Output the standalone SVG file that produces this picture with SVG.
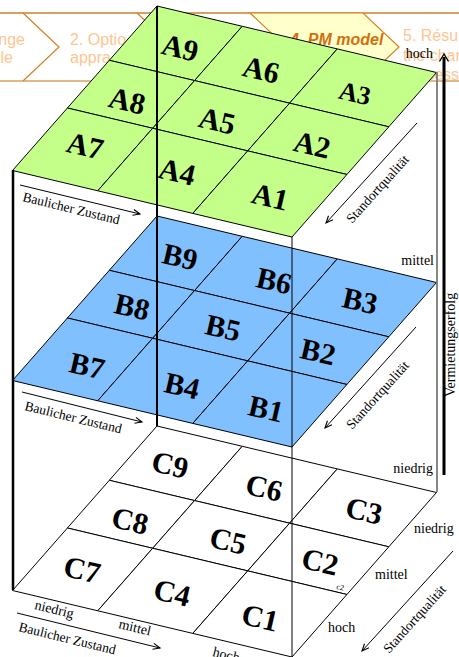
<svg xmlns="http://www.w3.org/2000/svg" width="459" height="657" viewBox="0 0 459 657">
<style>
.cell{stroke:#000;stroke-width:1;vector-effect:non-scaling-stroke}
.a{fill:#c3ff89}.b{fill:#80c0ff}.c{fill:#fff}
.cl{font-family:"Liberation Serif","DejaVu Serif",serif;font-weight:bold;font-size:30px;text-anchor:middle;fill:#000}
.sm{font-family:"Liberation Serif","DejaVu Serif",serif;font-size:13.5px;fill:#000}
.ax{font-family:"Liberation Serif","DejaVu Serif",serif;font-size:14px;fill:#000}
.bn{font-family:"Liberation Sans",Arial,sans-serif;font-size:16px;fill:#ffc590}
.chev{fill:none;stroke:#d98020;stroke-width:1.2}
.ar{fill:none;stroke:#000;stroke-width:1}
</style>
<defs>
<marker id="ah" markerWidth="10" markerHeight="8" refX="8" refY="4" orient="auto" markerUnits="userSpaceOnUse"><path d="M1,1 L8,4 L1,7" fill="none" stroke="#000" stroke-width="1.1"/></marker>
</defs>
<rect width="459" height="657" fill="#fff"/>
<g id="banner">
<line x1="0" y1="13" x2="459" y2="13" stroke="#d9a060" stroke-width="2"/>
<line x1="0" y1="81" x2="459" y2="81" stroke="#d9a060" stroke-width="1.5"/>
<polygon points="250,13 363,13 399,47 363,81 250,81 286,47" fill="#ffffcc" stroke="#d98020" stroke-width="1.2"/>
<polyline class="chev" points="23,13 59,47 23,81"/>
<polyline class="chev" points="137,13 173,47 137,81"/>
<text class="bn" x="25" y="45" text-anchor="end">nge</text>
<text class="bn" x="13" y="63" text-anchor="end">le</text>
<text class="bn" x="70" y="45">2. Optio</text>
<text class="bn" x="70" y="63">appra</text>
<text x="290" y="45" font-family="Liberation Sans, Arial, sans-serif" font-weight="bold" font-style="italic" font-size="16" fill="#d0700f">4. PM model</text>
<text class="bn" x="403" y="41">5. Résu</text>
<text class="bn" x="403" y="61">the char</text>
<text class="bn" x="403" y="80">process</text>
</g>
<g id="layerC">
<g id="C9"><rect class="cell c" x="0" y="0" width="0.305" height="0.33" transform="matrix(279.5 66.5 -144.5 164.5 157 426)"/><text class="cl" x="170" y="475" transform="rotate(13 170 465)">C9</text></g>
<g id="C8"><rect class="cell c" x="0" y="0.33" width="0.305" height="0.29" transform="matrix(279.5 66.5 -144.5 164.5 157 426)"/><text class="cl" x="130" y="531" transform="rotate(13 130 521)">C8</text></g>
<g id="C7"><rect class="cell c" x="0" y="0.62" width="0.305" height="0.38" transform="matrix(279.5 66.5 -144.5 164.5 157 426)"/><text class="cl" x="82" y="580" transform="rotate(13 82 570)">C7</text></g>
<g id="C6"><rect class="cell c" x="0.305" y="0" width="0.34" height="0.33" transform="matrix(279.5 66.5 -144.5 164.5 157 426)"/><text class="cl" x="264" y="498" transform="rotate(13 264 488)">C6</text></g>
<g id="C5"><rect class="cell c" x="0.305" y="0.33" width="0.34" height="0.29" transform="matrix(279.5 66.5 -144.5 164.5 157 426)"/><text class="cl" x="228" y="551" transform="rotate(13 228 541)">C5</text></g>
<g id="C4"><rect class="cell c" x="0.305" y="0.62" width="0.34" height="0.38" transform="matrix(279.5 66.5 -144.5 164.5 157 426)"/><text class="cl" x="172" y="603" transform="rotate(13 172 593)">C4</text></g>
<g id="C3"><rect class="cell c" x="0.645" y="0" width="0.355" height="0.33" transform="matrix(279.5 66.5 -144.5 164.5 157 426)"/><text class="cl" x="364" y="521" transform="rotate(13 364 511)">C3</text></g>
<g id="C2"><rect class="cell c" x="0.645" y="0.33" width="0.355" height="0.29" transform="matrix(279.5 66.5 -144.5 164.5 157 426)"/><text class="cl" x="320" y="572" transform="rotate(13 320 562)">C2</text><text x="336" y="589" font-family="Liberation Serif, serif" font-size="8" transform="rotate(13 336 589)">c2</text></g>
<g id="C1"><rect class="cell c" x="0.645" y="0.62" width="0.355" height="0.38" transform="matrix(279.5 66.5 -144.5 164.5 157 426)"/><text class="cl" x="260" y="628" transform="rotate(13 260 618)">C1</text></g>
</g>
<g id="layerB">
<g id="B9"><rect class="cell b" x="0" y="0" width="0.305" height="0.33" transform="matrix(279.5 66.5 -144.5 164.5 157 216)"/><text class="cl" x="180" y="267" transform="rotate(13 180 257)">B9</text></g>
<g id="B8"><rect class="cell b" x="0" y="0.33" width="0.305" height="0.29" transform="matrix(279.5 66.5 -144.5 164.5 157 216)"/><text class="cl" x="132" y="317" transform="rotate(13 132 307)">B8</text></g>
<g id="B7"><rect class="cell b" x="0" y="0.62" width="0.305" height="0.38" transform="matrix(279.5 66.5 -144.5 164.5 157 216)"/><text class="cl" x="87" y="376" transform="rotate(13 87 366)">B7</text></g>
<g id="B6"><rect class="cell b" x="0.305" y="0" width="0.34" height="0.33" transform="matrix(279.5 66.5 -144.5 164.5 157 216)"/><text class="cl" x="274" y="291" transform="rotate(13 274 281)">B6</text></g>
<g id="B5"><rect class="cell b" x="0.305" y="0.33" width="0.34" height="0.29" transform="matrix(279.5 66.5 -144.5 164.5 157 216)"/><text class="cl" x="223" y="338" transform="rotate(13 223 328)">B5</text></g>
<g id="B4"><rect class="cell b" x="0.305" y="0.62" width="0.34" height="0.38" transform="matrix(279.5 66.5 -144.5 164.5 157 216)"/><text class="cl" x="182" y="396" transform="rotate(13 182 386)">B4</text></g>
<g id="B3"><rect class="cell b" x="0.645" y="0" width="0.355" height="0.33" transform="matrix(279.5 66.5 -144.5 164.5 157 216)"/><text class="cl" x="360" y="311" transform="rotate(13 360 301)">B3</text></g>
<g id="B2"><rect class="cell b" x="0.645" y="0.33" width="0.355" height="0.29" transform="matrix(279.5 66.5 -144.5 164.5 157 216)"/><text class="cl" x="318" y="362" transform="rotate(13 318 352)">B2</text></g>
<g id="B1"><rect class="cell b" x="0.645" y="0.62" width="0.355" height="0.38" transform="matrix(279.5 66.5 -144.5 164.5 157 216)"/><text class="cl" x="266" y="419" transform="rotate(13 266 409)">B1</text></g>
</g>
<g id="layerA">
<g id="A9"><rect class="cell a" x="0" y="0" width="0.305" height="0.33" transform="matrix(279.5 66.5 -144.5 164.5 157 6)"/><text class="cl" x="180" y="58" transform="rotate(13 180 48)">A9</text></g>
<g id="A8"><rect class="cell a" x="0" y="0.33" width="0.305" height="0.29" transform="matrix(279.5 66.5 -144.5 164.5 157 6)"/><text class="cl" x="127" y="111" transform="rotate(13 127 101)">A8</text></g>
<g id="A7"><rect class="cell a" x="0" y="0.62" width="0.305" height="0.38" transform="matrix(279.5 66.5 -144.5 164.5 157 6)"/><text class="cl" x="85" y="156" transform="rotate(13 85 146)">A7</text></g>
<g id="A6"><rect class="cell a" x="0.305" y="0" width="0.34" height="0.33" transform="matrix(279.5 66.5 -144.5 164.5 157 6)"/><text class="cl" x="261" y="80" transform="rotate(13 261 70)">A6</text></g>
<g id="A5"><rect class="cell a" x="0.305" y="0.33" width="0.34" height="0.29" transform="matrix(279.5 66.5 -144.5 164.5 157 6)"/><text class="cl" x="217" y="131" transform="rotate(13 217 121)">A5</text></g>
<g id="A4"><rect class="cell a" x="0.305" y="0.62" width="0.34" height="0.38" transform="matrix(279.5 66.5 -144.5 164.5 157 6)"/><text class="cl" x="177" y="182" transform="rotate(13 177 172)">A4</text></g>
<g id="A3"><rect class="cell a" x="0.645" y="0" width="0.355" height="0.33" transform="matrix(279.5 66.5 -144.5 164.5 157 6)"/><text class="cl" x="355" y="102" font-size="26" style="font-size:26px" transform="rotate(13 355 93)">A3</text></g>
<g id="A2"><rect class="cell a" x="0.645" y="0.33" width="0.355" height="0.29" transform="matrix(279.5 66.5 -144.5 164.5 157 6)"/><text class="cl" x="312" y="155" transform="rotate(13 312 145)">A2</text></g>
<g id="A1"><rect class="cell a" x="0.645" y="0.62" width="0.355" height="0.38" transform="matrix(279.5 66.5 -144.5 164.5 157 6)"/><text class="cl" x="270" y="207" transform="rotate(13 270 197)">A1</text></g>
</g>
<g id="connectors" stroke="#000" fill="none">
<line x1="13" y1="170" x2="13" y2="590" stroke-width="2.5"/>
<line x1="157" y1="6" x2="157" y2="426" stroke-width="2"/>
<line x1="292" y1="237" x2="292" y2="657" stroke-width="1"/>
<line x1="437" y1="72" x2="437" y2="492" stroke="#7a7a7a" stroke-width="1.8"/>
<line x1="444" y1="475" x2="444" y2="57" stroke-width="3"/>
<path d="M439.5,61.5 L444,54 L448.5,61.5" stroke-width="1.3"/>
<line class="ar" x1="20" y1="185" x2="140" y2="214" marker-end="url(#ah)"/>
<line class="ar" x1="22" y1="392" x2="142" y2="422" marker-end="url(#ah)"/>
<line class="ar" x1="17" y1="613" x2="160" y2="648" marker-end="url(#ah)"/>
<line class="ar" x1="417" y1="123" x2="326" y2="223" marker-end="url(#ah)"/>
<line class="ar" x1="416" y1="327" x2="325" y2="428" marker-end="url(#ah)"/>
<line class="ar" x1="453" y1="551" x2="362" y2="651" marker-end="url(#ah)"/>
</g>
<g id="labels">
<text class="ax" x="433" y="58" text-anchor="end">hoch</text>
<text class="ax" x="434" y="265" text-anchor="end">mittel</text>
<text class="ax" x="433" y="473" text-anchor="end">niedrig</text>
<text class="ax" x="455" y="397" transform="rotate(-90 455 397)">Vermietungserfolg</text>
<text class="sm" x="22" y="201" transform="rotate(13.6 22 201)">Baulicher Zustand</text>
<text class="sm" x="24" y="410" transform="rotate(13.6 24 410)">Baulicher Zustand</text>
<text class="sm" x="18" y="631" transform="rotate(13.6 18 631)">Baulicher Zustand</text>
<text class="sm" x="352" y="224" transform="rotate(-48 352 224)">Standortqualität</text>
<text class="sm" x="352" y="430" transform="rotate(-48 352 430)">Standortqualität</text>
<text class="sm" x="389" y="654" transform="rotate(-48 389 654)">Standortqualität</text>
<text class="ax" x="34" y="609" transform="rotate(13.6 34 609)">niedrig</text>
<text class="ax" x="118" y="628" transform="rotate(13.6 118 628)">mittel</text>
<text class="ax" x="212" y="656" transform="rotate(13.6 212 656)">hoch</text>
<text class="ax" x="414" y="533">niedrig</text>
<text class="ax" x="375" y="579">mittel</text>
<text class="ax" x="328" y="632">hoch</text>
</g>
</svg>
